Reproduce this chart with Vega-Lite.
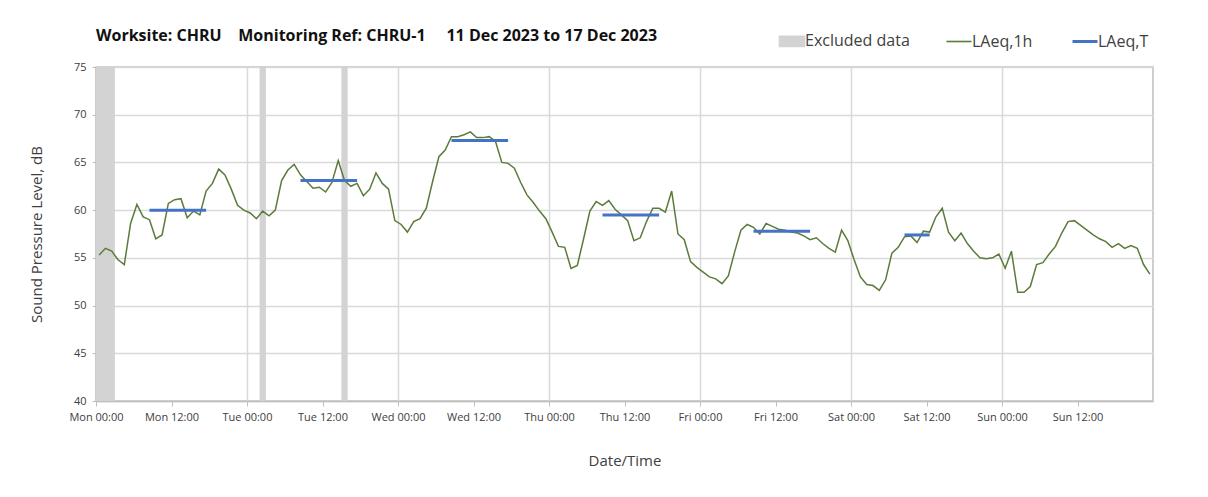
{
  "$schema": "https://vega.github.io/schema/vega-lite/v6.json",
  "width": 1057,
  "height": 334,
  "autosize": {"type": "none"},
  "padding": {"left": 96, "top": 67, "right": 55, "bottom": 96},
  "background": "white",
  "title": {
    "text": "Worksite: CHRU\u00a0\u00a0\u00a0\u00a0Monitoring Ref: CHRU-1\u00a0\u00a0\u00a0\u00a0\u00a011 Dec 2023 to 17 Dec 2023",
    "anchor": "start",
    "frame": "group",
    "offset": 24,
    "dy": 35,
    "font": "Open Sans",
    "fontSize": 16,
    "fontWeight": "bold",
    "color": "#111111"
  },
  "config": {
    "view": {"stroke": "#bfbfbf", "strokeWidth": 1.5},
    "axis": {
      "labelFont": "Open Sans",
      "titleFont": "Open Sans",
      "labelColor": "#404040",
      "titleColor": "#404040",
      "titleFontWeight": "normal",
      "domainColor": "#bfbfbf",
      "tickColor": "#bfbfbf",
      "gridColor": "#d9d9d9",
      "gridWidth": 1.5,
      "domainWidth": 1.5
    }
  },
  "datasets": {
    "hourly": [
      {"t": "2023-12-11T00:30:00", "v": 55.3}, {"t": "2023-12-11T01:30:00", "v": 56.0}, {"t": "2023-12-11T02:30:00", "v": 55.7}, {"t": "2023-12-11T03:30:00", "v": 54.8},
      {"t": "2023-12-11T04:30:00", "v": 54.3}, {"t": "2023-12-11T05:30:00", "v": 58.6}, {"t": "2023-12-11T06:30:00", "v": 60.6}, {"t": "2023-12-11T07:30:00", "v": 59.3},
      {"t": "2023-12-11T08:30:00", "v": 59.0}, {"t": "2023-12-11T09:30:00", "v": 57.0}, {"t": "2023-12-11T10:30:00", "v": 57.4}, {"t": "2023-12-11T11:30:00", "v": 60.7},
      {"t": "2023-12-11T12:30:00", "v": 61.1}, {"t": "2023-12-11T13:30:00", "v": 61.2}, {"t": "2023-12-11T14:30:00", "v": 59.2}, {"t": "2023-12-11T15:30:00", "v": 59.9},
      {"t": "2023-12-11T16:30:00", "v": 59.5}, {"t": "2023-12-11T17:30:00", "v": 62.0}, {"t": "2023-12-11T18:30:00", "v": 62.8}, {"t": "2023-12-11T19:30:00", "v": 64.3},
      {"t": "2023-12-11T20:30:00", "v": 63.7}, {"t": "2023-12-11T21:30:00", "v": 62.2}, {"t": "2023-12-11T22:30:00", "v": 60.5}, {"t": "2023-12-11T23:30:00", "v": 60.0},
      {"t": "2023-12-12T00:30:00", "v": 59.7}, {"t": "2023-12-12T01:30:00", "v": 59.1}, {"t": "2023-12-12T02:30:00", "v": 59.9}, {"t": "2023-12-12T03:30:00", "v": 59.4},
      {"t": "2023-12-12T04:30:00", "v": 60.0}, {"t": "2023-12-12T05:30:00", "v": 63.1}, {"t": "2023-12-12T06:30:00", "v": 64.2}, {"t": "2023-12-12T07:30:00", "v": 64.8},
      {"t": "2023-12-12T08:30:00", "v": 63.7}, {"t": "2023-12-12T09:30:00", "v": 63.0}, {"t": "2023-12-12T10:30:00", "v": 62.3}, {"t": "2023-12-12T11:30:00", "v": 62.4},
      {"t": "2023-12-12T12:30:00", "v": 61.9}, {"t": "2023-12-12T13:30:00", "v": 62.9}, {"t": "2023-12-12T14:30:00", "v": 65.2}, {"t": "2023-12-12T15:30:00", "v": 63.1},
      {"t": "2023-12-12T16:30:00", "v": 62.5}, {"t": "2023-12-12T17:30:00", "v": 62.8}, {"t": "2023-12-12T18:30:00", "v": 61.5}, {"t": "2023-12-12T19:30:00", "v": 62.2},
      {"t": "2023-12-12T20:30:00", "v": 63.9}, {"t": "2023-12-12T21:30:00", "v": 62.8}, {"t": "2023-12-12T22:30:00", "v": 62.2}, {"t": "2023-12-12T23:30:00", "v": 58.9},
      {"t": "2023-12-13T00:30:00", "v": 58.5}, {"t": "2023-12-13T01:30:00", "v": 57.7}, {"t": "2023-12-13T02:30:00", "v": 58.8}, {"t": "2023-12-13T03:30:00", "v": 59.1},
      {"t": "2023-12-13T04:30:00", "v": 60.2}, {"t": "2023-12-13T05:30:00", "v": 63.0}, {"t": "2023-12-13T06:30:00", "v": 65.6}, {"t": "2023-12-13T07:30:00", "v": 66.3},
      {"t": "2023-12-13T08:30:00", "v": 67.7}, {"t": "2023-12-13T09:30:00", "v": 67.7}, {"t": "2023-12-13T10:30:00", "v": 67.9}, {"t": "2023-12-13T11:30:00", "v": 68.2},
      {"t": "2023-12-13T12:30:00", "v": 67.6}, {"t": "2023-12-13T13:30:00", "v": 67.6}, {"t": "2023-12-13T14:30:00", "v": 67.7}, {"t": "2023-12-13T15:30:00", "v": 67.2},
      {"t": "2023-12-13T16:30:00", "v": 65.0}, {"t": "2023-12-13T17:30:00", "v": 64.9}, {"t": "2023-12-13T18:30:00", "v": 64.4}, {"t": "2023-12-13T19:30:00", "v": 62.9},
      {"t": "2023-12-13T20:30:00", "v": 61.6}, {"t": "2023-12-13T21:30:00", "v": 60.8}, {"t": "2023-12-13T22:30:00", "v": 59.9}, {"t": "2023-12-13T23:30:00", "v": 59.1},
      {"t": "2023-12-14T00:30:00", "v": 57.7}, {"t": "2023-12-14T01:30:00", "v": 56.2}, {"t": "2023-12-14T02:30:00", "v": 56.1}, {"t": "2023-12-14T03:30:00", "v": 53.9},
      {"t": "2023-12-14T04:30:00", "v": 54.2}, {"t": "2023-12-14T05:30:00", "v": 57.0}, {"t": "2023-12-14T06:30:00", "v": 59.9}, {"t": "2023-12-14T07:30:00", "v": 60.9},
      {"t": "2023-12-14T08:30:00", "v": 60.5}, {"t": "2023-12-14T09:30:00", "v": 61.0}, {"t": "2023-12-14T10:30:00", "v": 60.1}, {"t": "2023-12-14T11:30:00", "v": 59.5},
      {"t": "2023-12-14T12:30:00", "v": 58.9}, {"t": "2023-12-14T13:30:00", "v": 56.8}, {"t": "2023-12-14T14:30:00", "v": 57.1}, {"t": "2023-12-14T15:30:00", "v": 58.8},
      {"t": "2023-12-14T16:30:00", "v": 60.2}, {"t": "2023-12-14T17:30:00", "v": 60.2}, {"t": "2023-12-14T18:30:00", "v": 59.8}, {"t": "2023-12-14T19:30:00", "v": 62.0},
      {"t": "2023-12-14T20:30:00", "v": 57.5}, {"t": "2023-12-14T21:30:00", "v": 56.9}, {"t": "2023-12-14T22:30:00", "v": 54.6}, {"t": "2023-12-14T23:30:00", "v": 54.0},
      {"t": "2023-12-15T00:30:00", "v": 53.5}, {"t": "2023-12-15T01:30:00", "v": 53.0}, {"t": "2023-12-15T02:30:00", "v": 52.8}, {"t": "2023-12-15T03:30:00", "v": 52.3},
      {"t": "2023-12-15T04:30:00", "v": 53.1}, {"t": "2023-12-15T05:30:00", "v": 55.6}, {"t": "2023-12-15T06:30:00", "v": 57.9}, {"t": "2023-12-15T07:30:00", "v": 58.5},
      {"t": "2023-12-15T08:30:00", "v": 58.2}, {"t": "2023-12-15T09:30:00", "v": 57.5}, {"t": "2023-12-15T10:30:00", "v": 58.6}, {"t": "2023-12-15T11:30:00", "v": 58.3},
      {"t": "2023-12-15T12:30:00", "v": 58.0}, {"t": "2023-12-15T13:30:00", "v": 57.9}, {"t": "2023-12-15T14:30:00", "v": 57.7}, {"t": "2023-12-15T15:30:00", "v": 57.6},
      {"t": "2023-12-15T16:30:00", "v": 57.3}, {"t": "2023-12-15T17:30:00", "v": 56.9}, {"t": "2023-12-15T18:30:00", "v": 57.1}, {"t": "2023-12-15T19:30:00", "v": 56.5},
      {"t": "2023-12-15T20:30:00", "v": 56.0}, {"t": "2023-12-15T21:30:00", "v": 55.6}, {"t": "2023-12-15T22:30:00", "v": 57.9}, {"t": "2023-12-15T23:30:00", "v": 56.8},
      {"t": "2023-12-16T00:30:00", "v": 54.8}, {"t": "2023-12-16T01:30:00", "v": 53.0}, {"t": "2023-12-16T02:30:00", "v": 52.2}, {"t": "2023-12-16T03:30:00", "v": 52.1},
      {"t": "2023-12-16T04:30:00", "v": 51.6}, {"t": "2023-12-16T05:30:00", "v": 52.7}, {"t": "2023-12-16T06:30:00", "v": 55.5}, {"t": "2023-12-16T07:30:00", "v": 56.1},
      {"t": "2023-12-16T08:30:00", "v": 57.2}, {"t": "2023-12-16T09:30:00", "v": 57.3}, {"t": "2023-12-16T10:30:00", "v": 56.6}, {"t": "2023-12-16T11:30:00", "v": 57.8},
      {"t": "2023-12-16T12:30:00", "v": 57.7}, {"t": "2023-12-16T13:30:00", "v": 59.3}, {"t": "2023-12-16T14:30:00", "v": 60.2}, {"t": "2023-12-16T15:30:00", "v": 57.7},
      {"t": "2023-12-16T16:30:00", "v": 56.8}, {"t": "2023-12-16T17:30:00", "v": 57.6}, {"t": "2023-12-16T18:30:00", "v": 56.5}, {"t": "2023-12-16T19:30:00", "v": 55.7},
      {"t": "2023-12-16T20:30:00", "v": 55.0}, {"t": "2023-12-16T21:30:00", "v": 54.9}, {"t": "2023-12-16T22:30:00", "v": 55.0}, {"t": "2023-12-16T23:30:00", "v": 55.4},
      {"t": "2023-12-17T00:30:00", "v": 53.9}, {"t": "2023-12-17T01:30:00", "v": 55.7}, {"t": "2023-12-17T02:30:00", "v": 51.4}, {"t": "2023-12-17T03:30:00", "v": 51.4},
      {"t": "2023-12-17T04:30:00", "v": 52.0}, {"t": "2023-12-17T05:30:00", "v": 54.3}, {"t": "2023-12-17T06:30:00", "v": 54.5}, {"t": "2023-12-17T07:30:00", "v": 55.4},
      {"t": "2023-12-17T08:30:00", "v": 56.2}, {"t": "2023-12-17T09:30:00", "v": 57.6}, {"t": "2023-12-17T10:30:00", "v": 58.8}, {"t": "2023-12-17T11:30:00", "v": 58.9},
      {"t": "2023-12-17T12:30:00", "v": 58.4}, {"t": "2023-12-17T13:30:00", "v": 57.9}, {"t": "2023-12-17T14:30:00", "v": 57.4}, {"t": "2023-12-17T15:30:00", "v": 57.0},
      {"t": "2023-12-17T16:30:00", "v": 56.7}, {"t": "2023-12-17T17:30:00", "v": 56.1}, {"t": "2023-12-17T18:30:00", "v": 56.5}, {"t": "2023-12-17T19:30:00", "v": 56.0},
      {"t": "2023-12-17T20:30:00", "v": 56.3}, {"t": "2023-12-17T21:30:00", "v": 56.0}, {"t": "2023-12-17T22:30:00", "v": 54.3}, {"t": "2023-12-17T23:30:00", "v": 53.3}
    ],
    "excluded": [
      {"start": "2023-12-11T00:00:00", "end": "2023-12-11T03:00:00", "series": "Excluded data"},
      {"start": "2023-12-12T02:00:00", "end": "2023-12-12T03:00:00", "series": "Excluded data"},
      {"start": "2023-12-12T15:00:00", "end": "2023-12-12T16:00:00", "series": "Excluded data"}
    ],
    "periods": [
      {"start": "2023-12-11T08:30:00", "end": "2023-12-11T17:30:00", "v": 60.0, "series": "LAeq,T"},
      {"start": "2023-12-12T08:30:00", "end": "2023-12-12T17:30:00", "v": 63.1, "series": "LAeq,T"},
      {"start": "2023-12-13T08:30:00", "end": "2023-12-13T17:30:00", "v": 67.3, "series": "LAeq,T"},
      {"start": "2023-12-14T08:30:00", "end": "2023-12-14T17:30:00", "v": 59.5, "series": "LAeq,T"},
      {"start": "2023-12-15T08:30:00", "end": "2023-12-15T17:30:00", "v": 57.8, "series": "LAeq,T"},
      {"start": "2023-12-16T08:30:00", "end": "2023-12-16T12:30:00", "v": 57.4, "series": "LAeq,T"}
    ]
  },
  "layer": [
    {
      "data": {"name": "excluded"},
      "mark": {"type": "rect", "opacity": 1},
      "encoding": {
        "x": {
          "field": "start", "type": "temporal",
          "scale": {"domain": [{"year": 2023, "month": 12, "date": 11, "hours": 0}, {"year": 2023, "month": 12, "date": 18, "hours": 0}]},
          "axis": {
            "title": "Date/Time",
            "titleFontSize": 15,
            "titlePadding": 31,
            "format": "%a %H:%M",
            "labelFontSize": 11,
            "labelAngle": 0,
            "labelPadding": 5,
            "labelOverlap": false,
            "labelFlush": false,
            "tickSize": 5,
            "values": [
              {"year": 2023, "month": 12, "date": 11, "hours": 0}, {"year": 2023, "month": 12, "date": 11, "hours": 12},
              {"year": 2023, "month": 12, "date": 12, "hours": 0}, {"year": 2023, "month": 12, "date": 12, "hours": 12},
              {"year": 2023, "month": 12, "date": 13, "hours": 0}, {"year": 2023, "month": 12, "date": 13, "hours": 12},
              {"year": 2023, "month": 12, "date": 14, "hours": 0}, {"year": 2023, "month": 12, "date": 14, "hours": 12},
              {"year": 2023, "month": 12, "date": 15, "hours": 0}, {"year": 2023, "month": 12, "date": 15, "hours": 12},
              {"year": 2023, "month": 12, "date": 16, "hours": 0}, {"year": 2023, "month": 12, "date": 16, "hours": 12},
              {"year": 2023, "month": 12, "date": 17, "hours": 0}, {"year": 2023, "month": 12, "date": 17, "hours": 12}
            ],
            "gridOpacity": {"condition": {"test": "hours(datum.value) === 12", "value": 0}, "value": 1}
          }
        },
        "x2": {"field": "end"},
        "color": {
          "field": "series", "type": "nominal",
          "scale": {"domain": ["Excluded data", "LAeq,1h", "LAeq,T"], "range": ["#d3d3d3", "#5b7b3a", "#4472c4"]},
          "legend": {
            "title": null,
            "orient": "none",
            "direction": "horizontal",
            "legendX": 688,
            "legendY": -34,
            "labelFont": "Open Sans",
            "labelFontSize": 16,
            "labelColor": "#404040",
            "labelOffset": 5,
            "columnPadding": 33,
            "symbolSize": 625,
            "symbolOpacity": 1,
            "encode": {
              "symbols": {
                "update": {
                  "shape": {"signal": "datum.value === 'Excluded data' ? 'M-1,-0.4H1V0.4H-1Z' : 'M-1,0H1'"},
                  "fill": {"signal": "datum.value === 'Excluded data' ? '#d3d3d3' : 'transparent'"},
                  "stroke": {"signal": "datum.value === 'Excluded data' ? 'transparent' : (datum.value === 'LAeq,1h' ? '#5b7b3a' : '#4472c4')"},
                  "strokeWidth": {"signal": "datum.value === 'LAeq,T' ? 3 : 1.6"},
                  "opacity": {"value": 1}
                }
              }
            }
          }
        }
      }
    },
    {
      "data": {"name": "hourly"},
      "mark": {"type": "line", "strokeWidth": 1.5, "interpolate": "linear"},
      "encoding": {
        "x": {"field": "t", "type": "temporal"},
        "y": {
          "field": "v", "type": "quantitative",
          "scale": {"domain": [40, 75], "nice": false, "zero": false},
          "axis": {
            "title": "Sound Pressure Level, dB",
            "titleFontSize": 15,
            "titlePadding": 29,
            "labelFontSize": 11,
            "labelPadding": 6,
            "tickSize": 4,
            "values": [40, 45, 50, 55, 60, 65, 70, 75],
            "grid": true
          }
        },
        "color": {"datum": "LAeq,1h", "type": "nominal"}
      }
    },
    {
      "data": {"name": "periods"},
      "mark": {"type": "rule", "strokeWidth": 3},
      "encoding": {
        "x": {"field": "start", "type": "temporal"},
        "x2": {"field": "end"},
        "y": {"field": "v", "type": "quantitative"},
        "color": {"field": "series", "type": "nominal"}
      }
    }
  ]
}
